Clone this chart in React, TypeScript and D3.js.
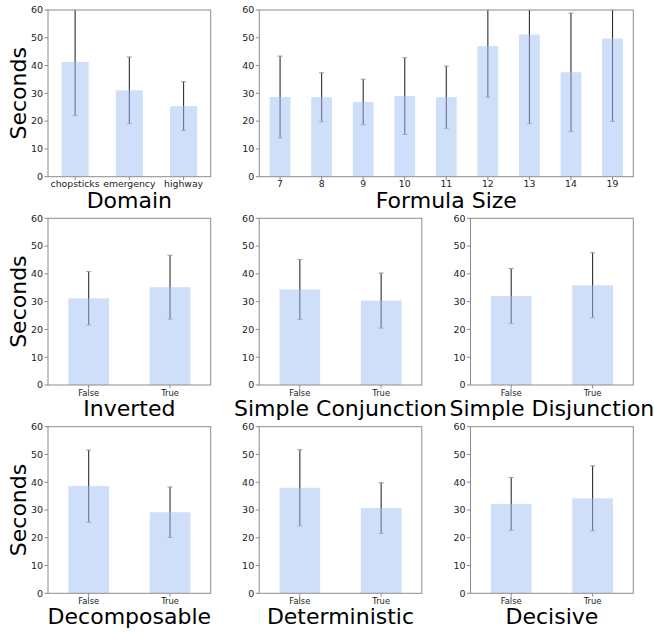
import React from "react";
import * as d3 from "d3";

const domainCats = ["chopsticks", "emergency", "highway"];
const domainMeans = [41.3, 31.1, 25.4];
const domainErrs = [19.3, 12.0, 8.8];

const formulaCats = ["7", "8", "9", "10", "11", "12", "13", "14", "19"];
const formulaMeans = [28.7, 28.6, 26.9, 29.0, 28.6, 47.0, 51.2, 37.6, 49.7];
const formulaErrs = [14.7, 8.8, 8.2, 13.8, 11.2, 18.4, 32.1, 21.3, 29.8];

const boolCats = ["False", "True"];
const invertedMeans = [31.2, 35.2];
const invertedErrs = [9.6, 11.5];
const conjMeans = [34.4, 30.4];
const conjErrs = [10.8, 9.9];
const disjMeans = [32.0, 35.9];
const disjErrs = [9.9, 11.7];
const decompMeans = [38.6, 29.2];
const decompErrs = [13.0, 9.1];
const determMeans = [38.0, 30.7];
const determErrs = [13.7, 9.1];
const decisiveMeans = [32.2, 34.2];
const decisiveErrs = [9.5, 11.7];

const yTicks = [0, 10, 20, 30, 40, 50, 60];

const rows = [
  { top: 10, bottom: 176.7 },
  { top: 218.3, bottom: 385 },
  { top: 426.7, bottom: 593.3 },
];
const cols = [
  [48, 210.7],
  [259.2, 421.8],
  [470.5, 633.3],
];

const panels = [
  { title: "Domain", cats: domainCats, means: domainMeans, errs: domainErrs, row: 0, x0: cols[0][0], x1: cols[0][1], ylabel: true, tickSize: 9.3 },
  { title: "Formula Size", cats: formulaCats, means: formulaMeans, errs: formulaErrs, row: 0, x0: 259.3, x1: 633.3, ylabel: false, tickSize: 9.3 },
  { title: "Inverted", cats: boolCats, means: invertedMeans, errs: invertedErrs, row: 1, x0: cols[0][0], x1: cols[0][1], ylabel: true, tickSize: 8.4 },
  { title: "Simple Conjunction", cats: boolCats, means: conjMeans, errs: conjErrs, row: 1, x0: cols[1][0], x1: cols[1][1], ylabel: false, tickSize: 8.4 },
  { title: "Simple Disjunction", cats: boolCats, means: disjMeans, errs: disjErrs, row: 1, x0: cols[2][0], x1: cols[2][1], ylabel: false, tickSize: 8.4 },
  { title: "Decomposable", cats: boolCats, means: decompMeans, errs: decompErrs, row: 2, x0: cols[0][0], x1: cols[0][1], ylabel: true, tickSize: 8.4 },
  { title: "Deterministic", cats: boolCats, means: determMeans, errs: determErrs, row: 2, x0: cols[1][0], x1: cols[1][1], ylabel: false, tickSize: 8.4 },
  { title: "Decisive", cats: boolCats, means: decisiveMeans, errs: decisiveErrs, row: 2, x0: cols[2][0], x1: cols[2][1], ylabel: false, tickSize: 8.4 },
];

const FONT = "DejaVu Sans, sans-serif";
const SPINE = "#8c8c8c";

function Panel({ p, idx }: { p: any; idx: number }) {
  const { top, bottom } = rows[p.row];
  const x = d3.scaleBand().domain(p.cats).range([p.x0, p.x1]).paddingInner(0.5).paddingOuter(0.25);
  const y = d3.scaleLinear().domain([0, 60]).range([bottom, top]);
  const clipId = `clip-${idx}`;
  const cx = (p.x0 + p.x1) / 2;
  return (
    <g>
      <defs>
        <clipPath id={clipId}>
          <rect x={p.x0} y={top} width={p.x1 - p.x0} height={bottom - top} />
        </clipPath>
      </defs>
      <g clipPath={`url(#${clipId})`}>
        {p.cats.map((c: string, i: number) => {
          const xc = (x(c) as number) + x.bandwidth() / 2;
          const lo = y(p.means[i] - p.errs[i]);
          const hi = y(p.means[i] + p.errs[i]);
          return (
            <g key={"e" + c}>
              <line x1={xc} x2={xc} y1={lo} y2={hi} stroke="#2e2e2e" strokeWidth={1.1} />
              <line x1={xc - 2.5} x2={xc + 2.5} y1={lo} y2={lo} stroke="#9a9a9a" strokeWidth={1} />
              <line x1={xc - 2.5} x2={xc + 2.5} y1={hi} y2={hi} stroke="#9a9a9a" strokeWidth={1} />
            </g>
          );
        })}
        {p.cats.map((c: string, i: number) => (
          <rect
            key={"b" + c}
            x={x(c)}
            y={y(p.means[i])}
            width={x.bandwidth()}
            height={y(0) - y(p.means[i])}
            fill="#a0c0f6"
            fillOpacity={0.5}
          />
        ))}
      </g>
      <rect x={p.x0} y={top} width={p.x1 - p.x0} height={bottom - top} fill="none" stroke={SPINE} strokeWidth={1} />
      {yTicks.map((t) => (
        <g key={"y" + t}>
          <line x1={p.x0 - 3.5} x2={p.x0} y1={y(t)} y2={y(t)} stroke={SPINE} />
          <text x={p.x0 - 5} y={y(t)} dy="0.35em" textAnchor="end" fontSize={9.5} fontFamily={FONT} fill="#222">
            {t}
          </text>
        </g>
      ))}
      {p.cats.map((c: string) => {
        const xc = (x(c) as number) + x.bandwidth() / 2;
        return (
          <g key={"x" + c}>
            <line x1={xc} x2={xc} y1={bottom} y2={bottom + 3.5} stroke={SPINE} />
            <text x={xc} y={bottom + 10.5} textAnchor="middle" fontSize={p.tickSize} fontFamily={FONT} fill="#222">
              {c}
            </text>
          </g>
        );
      })}
      <text x={cx} y={bottom + 31} textAnchor="middle" fontSize={22} fontFamily={FONT} fill="#000">
        {p.title}
      </text>
      {p.ylabel && (
        <text
          transform={`translate(26,${(top + bottom) / 2}) rotate(-90)`}
          textAnchor="middle"
          fontSize={22}
          fontFamily={FONT}
          fill="#000"
        >
          Seconds
        </text>
      )}
    </g>
  );
}

export default function App() {
  return (
    <svg
      width={654}
      height={633}
      style={{ position: "absolute", left: 0, top: 0, background: "#fff" }}
    >
      <rect width={654} height={633} fill="#fff" />
      {panels.map((p, i) => (
        <Panel key={p.title} p={p} idx={i} />
      ))}
    </svg>
  );
}
